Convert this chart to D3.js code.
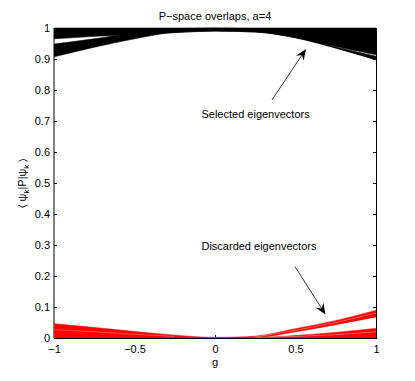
<!DOCTYPE html>
<html><head><meta charset="utf-8">
<script src="https://cdn.jsdelivr.net/npm/d3@7"></script>
<style>
body{margin:0;background:#fff}
svg{display:block}
text{font-family:"Liberation Sans",Arial,Helvetica,sans-serif;font-size:11px;fill:#000}
</style>
</head><body>
<svg id="c" width="415" height="381"></svg>
<script>
// ---------- data ----------
const gValues = [-1, -0.75, -0.5, -0.25, 0, 0.25, 0.5, 0.75, 1];

// Selected eigenvectors (black bundles of curves)
const selUpperTop    = [1, 1, 1, 1, 1, 1, 1, 1, 1];
const selUpperBottom = [0.965, 0.973, 0.979, 0.985, 0.990, 0.987, 0.970, 0.940, 0.914];
const selLowerTop    = [0.948, 0.965, 0.984, 0.995, 1.000, 0.996, 0.975, 0.9385, 0.909];
const selLowerBottom = [0.907, 0.938, 0.965, 0.986, 0.990, 0.987, 0.968, 0.935, 0.897];

// Discarded eigenvectors (red bundles of curves)
const discMainTop     = [0.046, 0.034, 0.021, 0.009, 0.002, 0.002, 0.008, 0.018, 0.031];
const discMainBottom  = [0, 0, 0, 0, 0, 0, 0, 0, 0];
const discRightTop    = [null, null, null, null, 0.001, 0.006, 0.030, 0.056, 0.089];
const discRightBottom = [null, null, null, null, 0.000, 0.001, 0.020, 0.043, 0.068];
// faint gaps between individual red curves
const discGapLeft   = [0.027, 0.020, 0.012, 0.005, null, null, null, null, null];
const discGapRightA = [null, null, null, null, null, 0.003, 0.025, 0.050, 0.080];
const discGapRightB = [null, null, null, null, null, 0.001, 0.005, 0.011, 0.020];

const xTicks = [-1, -0.5, 0, 0.5, 1];
const yTicks = [0, 0.1, 0.2, 0.3, 0.4, 0.5, 0.6, 0.7, 0.8, 0.9, 1];

const titleText = "P\u2212space overlaps, a=4";
const xLabel = "g";
const noteSelected = "Selected eigenvectors";
const noteDiscarded = "Discarded eigenvectors";
// arrow [tailG, tailV, tipG, tipV]
const arrowSelected = [0.354, 0.768, 0.565, 0.932];
const arrowDiscarded = [0.497, 0.230, 0.686, 0.076];
const noteSelectedPos = [0.252, 0.722];
const noteDiscardedPos = [0.273, 0.297];

// ---------- drawing ----------
const svg = d3.select("#c");
const L = 54, R = 376, T = 28, B = 338;
const x = d3.scaleLinear().domain([-1, 1]).range([L, R]);
const y = d3.scaleLinear().domain([0, 1]).range([B, T]);

svg.append("defs").append("clipPath").attr("id", "clip")
  .append("rect").attr("x", L).attr("y", T - 1).attr("width", R - L).attr("height", B - T + 1);

// axis box (under the data)
const box = svg.append("g");
box.append("line").attr("x1", L).attr("x2", L).attr("y1", T).attr("y2", B).attr("stroke", "#000").attr("stroke-width", 1);
box.append("line").attr("x1", L).attr("x2", R).attr("y1", B + 0.5).attr("y2", B + 0.5).attr("stroke", "#000");
box.append("line").attr("x1", L).attr("x2", R).attr("y1", T + 0.5).attr("y2", T + 0.5).attr("stroke", "#000");

const fmt = d3.format("~g");
const ax = svg.append("g").attr("transform", `translate(0,${B})`)
  .call(d3.axisBottom(x).tickValues(xTicks).tickFormat(fmt).tickSizeInner(-3).tickSizeOuter(0).tickPadding(7));
const axTop = svg.append("g").attr("transform", `translate(0,${T})`)
  .call(d3.axisTop(x).tickValues(xTicks).tickFormat("").tickSizeInner(-3).tickSizeOuter(0));
const ay = svg.append("g").attr("transform", `translate(${L},0)`)
  .call(d3.axisLeft(y).tickValues(yTicks).tickFormat(fmt).tickSizeInner(-3).tickSizeOuter(0).tickPadding(4));
const ayR = svg.append("g").attr("transform", `translate(${R},0)`)
  .call(d3.axisRight(y).tickValues(yTicks).tickFormat("").tickSizeInner(-3).tickSizeOuter(0));
[ax, axTop, ay, ayR].forEach(a => {
  a.select(".domain").remove();
  a.attr("font-family", null).attr("font-size", null);
  a.selectAll(".tick line").attr("stroke", "#000");
});

// data bands
const plot = svg.append("g").attr("clip-path", "url(#clip)");
function band(top, bottom, color) {
  const pts = gValues.map((g, i) => ({ g, t: top[i], b: bottom[i] }));
  const area = d3.area()
    .defined(d => d.t != null && d.b != null)
    .x(d => x(d.g)).y0(d => y(d.b)).y1(d => y(d.t))
    .curve(d3.curveMonotoneX);
  plot.append("path").attr("d", area(pts)).attr("fill", color)
    .attr("stroke", color).attr("stroke-width", 0.6);
}
function gapLine(vals, color, w, op) {
  const pts = gValues.map((g, i) => ({ g, v: vals[i] }));
  const line = d3.line().defined(d => d.v != null).x(d => x(d.g)).y(d => y(d.v)).curve(d3.curveMonotoneX);
  plot.append("path").attr("d", line(pts)).attr("fill", "none").attr("stroke", color)
    .attr("stroke-width", w).attr("opacity", op);
}
band(selUpperTop, selUpperBottom, "#000");
band(selLowerTop, selLowerBottom, "#000");
band(discMainTop, discMainBottom, "#ff0000");
band(discRightTop, discRightBottom, "#ff0000");
gapLine(discGapLeft, "#fff", 0.7, 0.45);
gapLine(discGapRightA, "#fff", 0.7, 0.5);
gapLine(discGapRightB, "#fff", 0.7, 0.5);

// right edge line drawn crisp on top
svg.append("line").attr("x1", R + 0.5).attr("x2", R + 0.5).attr("y1", T).attr("y2", B + 1).attr("stroke", "#000");

// titles
svg.append("text").attr("x", (L + R) / 2).attr("y", 20).attr("text-anchor", "middle").text(titleText);
svg.append("text").attr("x", (L + R) / 2).attr("y", 366).attr("text-anchor", "middle").text(xLabel);

const yl = svg.append("text").attr("transform", `translate(26,${(T + B) / 2}) rotate(-90)`).attr("text-anchor", "middle");
yl.append("tspan").text("\u2329 \u03c8");
yl.append("tspan").attr("font-size", "8px").attr("dy", 3).text("k");
yl.append("tspan").attr("dy", -3).text("|P|\u03c8");
yl.append("tspan").attr("font-size", "8px").attr("dy", 3).text("k");
yl.append("tspan").attr("dy", -3).text(" \u232a");

// annotations
function arrow(a) {
  const x1 = x(a[0]), y1 = y(a[1]), x2 = x(a[2]), y2 = y(a[3]);
  const ang = Math.atan2(y2 - y1, x2 - x1);
  const hl = 11, hw = 4.6, notch = 7;
  const bx = x2 - hl * Math.cos(ang), by = y2 - hl * Math.sin(ang);
  const nx = x2 - notch * Math.cos(ang), ny = y2 - notch * Math.sin(ang);
  const px = -Math.sin(ang), py = Math.cos(ang);
  svg.append("line").attr("x1", x1).attr("y1", y1).attr("x2", nx).attr("y2", ny)
    .attr("stroke", "#000").attr("stroke-width", 0.8);
  svg.append("path")
    .attr("d", `M${x2},${y2}L${bx + px * hw},${by + py * hw}L${nx},${ny}L${bx - px * hw},${by - py * hw}Z`)
    .attr("fill", "#000");
}
arrow(arrowSelected);
arrow(arrowDiscarded);
svg.append("text").attr("x", x(noteSelectedPos[0])).attr("y", y(noteSelectedPos[1]))
  .attr("dy", "0.35em").attr("text-anchor", "middle").text(noteSelected);
svg.append("text").attr("x", x(noteDiscardedPos[0])).attr("y", y(noteDiscardedPos[1]))
  .attr("dy", "0.35em").attr("text-anchor", "middle").text(noteDiscarded);
</script>
</body></html>
